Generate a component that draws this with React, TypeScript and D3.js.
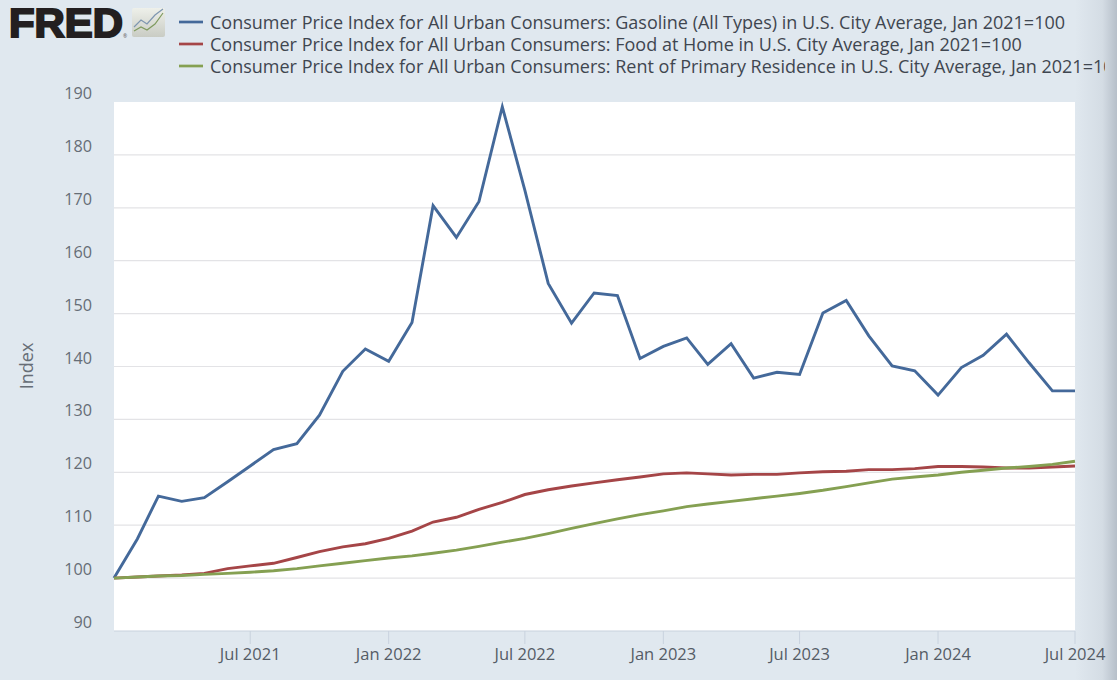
import * as React from 'react';
import * as d3 from 'd3';

const gasoline = [
  100, 107.4, 115.5, 114.5, 115.2, 118.2, 121.2, 124.3, 125.4, 130.8, 139.1, 143.3,
  141, 148.3, 170.4, 164.4, 171.2, 189.1, 173.3, 155.7, 148.2, 153.9, 153.4, 141.5,
  143.8, 145.4, 140.4, 144.3, 137.8, 138.9, 138.5, 150.1, 152.5, 145.8, 140.1, 139.2,
  134.6, 139.8, 142.1, 146.1, 140.7, 135.4, 135.4,
];
const foodAtHome = [
  100, 100.2, 100.4, 100.6, 100.9, 101.8, 102.3, 102.8, 103.9, 105, 105.9, 106.5,
  107.5, 108.9, 110.6, 111.5, 113, 114.3, 115.8, 116.7, 117.4, 118, 118.6, 119.1,
  119.7, 119.9, 119.7, 119.5, 119.6, 119.6, 119.9, 120.1, 120.2, 120.5, 120.5, 120.7,
  121.1, 121.1, 121, 120.8, 120.8, 121, 121.2,
];
const rent = [
  100, 100.2, 100.4, 100.5, 100.7, 100.9, 101.1, 101.4, 101.8, 102.3, 102.8, 103.3,
  103.8, 104.2, 104.7, 105.3, 106, 106.8, 107.5, 108.4, 109.4, 110.3, 111.2, 112,
  112.7, 113.5, 114, 114.5, 115, 115.5, 116, 116.6, 117.3, 118, 118.7, 119.1,
  119.5, 120, 120.4, 120.8, 121.1, 121.5, 122.1,
];
const dates = d3.timeMonth.range(new Date(2021, 0, 1), new Date(2024, 7, 1));

const seriesNames = [
  'Consumer Price Index for All Urban Consumers: Gasoline (All Types) in U.S. City Average, Jan 2021=100',
  'Consumer Price Index for All Urban Consumers: Food at Home in U.S. City Average, Jan 2021=100',
  'Consumer Price Index for All Urban Consumers: Rent of Primary Residence in U.S. City Average, Jan 2021=100',
];
const seriesValues = [gasoline, foodAtHome, rent];
const seriesColors = ['#44699A', '#A54547', '#85A052'];

const yTicks = [90, 100, 110, 120, 130, 140, 150, 160, 170, 180, 190];
const xTicks = [
  new Date(2021, 6, 1),
  new Date(2022, 0, 1),
  new Date(2022, 6, 1),
  new Date(2023, 0, 1),
  new Date(2023, 6, 1),
  new Date(2024, 0, 1),
  new Date(2024, 6, 1),
];

const width = 1117;
const height = 680;
const left = 114;
const right = 1075;
const top = 102;
const bottom = 631;

const x = d3.scaleTime().domain([dates[0], dates[dates.length - 1]]).range([left, right]);
const y = d3.scaleLinear().domain([90, 190]).range([bottom, top]);
const formatDate = d3.timeFormat('%b %Y');
const font = '"Open Sans", sans-serif';

const line = d3
  .line<number>()
  .x((_, i) => x(dates[i]))
  .y((d) => y(d));

export default function App() {
  return (
    <svg
      width={width}
      height={height}
      viewBox={`0 0 ${width} ${height}`}
      style={{ position: 'absolute', left: 0, top: 0, display: 'block' }}
      fontFamily={font}
    >
      <defs>
        <linearGradient id="edge" x1="0" x2="1" y1="0" y2="0">
          <stop offset="0" stopColor="#4A5568" stopOpacity={0} />
          <stop offset="0.65" stopColor="#4A5568" stopOpacity={0.08} />
          <stop offset="1" stopColor="#4A5568" stopOpacity={0.28} />
        </linearGradient>
        <linearGradient id="icon" x1="0" x2="0" y1="0" y2="1">
          <stop offset="0" stopColor="#EEF0EA" />
          <stop offset="1" stopColor="#C9CCC4" />
        </linearGradient>
        <clipPath id="legendClip">
          <rect x={0} y={0} width={1105} height={height} />
        </clipPath>
      </defs>
      <rect width={width} height={height} fill="#E0E8EF" />

      {/* Logo */}
      <text
        x={9}
        y={37}
        fontFamily='"Liberation Sans", Arial, sans-serif'
        fontWeight={700}
        fontSize={40}
        fill="#231F20"
        stroke="#231F20"
        strokeWidth={2}
        textLength={114}
        lengthAdjust="spacingAndGlyphs"
      >
        FRED
      </text>
      <text x={123} y={38} fontSize={5} fill="#555">®</text>
      <rect x={132} y={8} width={33} height={29} rx={2} fill="url(#icon)" />
      <polyline points="134,27 141,20 147,24 155,15 163,9" fill="none" stroke="#7E96B0" strokeWidth={1.2} />
      <polyline points="134,31 141,27 147,30 155,24 163,13" fill="none" stroke="#7F9A5E" strokeWidth={1.2} />

      {/* Legend */}
      <g clipPath="url(#legendClip)">
        {seriesNames.map((name, i) => (
          <g key={name} transform={`translate(0, ${22 + i * 22})`}>
            <line x1={179} x2={203} y1={0} y2={0} stroke={seriesColors[i]} strokeWidth={2.7} />
            <text x={210} y={6.5} fontSize={18} fill="#3F4650">
              {name}
            </text>
          </g>
        ))}
      </g>

      {/* Plot */}
      <rect x={left} y={top} width={right - left} height={bottom - top} fill="#FFFFFF" />
      {yTicks.slice(1, -1).map((t) => (
        <line key={t} x1={left} x2={right} y1={y(t)} y2={y(t)} stroke="#E3E3E6" strokeWidth={1.2} />
      ))}
      <line x1={left} x2={right} y1={bottom} y2={bottom} stroke="#C8D2DE" strokeWidth={1.2} />
      {xTicks.map((t) => (
        <line key={t.getTime()} x1={x(t)} x2={x(t)} y1={bottom} y2={bottom + 13} stroke="#C8D2DE" strokeWidth={1} />
      ))}

      {seriesValues.map((values, i) => (
        <path
          key={seriesNames[i]}
          d={line(values) ?? ''}
          fill="none"
          stroke={seriesColors[i]}
          strokeWidth={2.9}
          strokeLinejoin="miter"
        />
      ))}

      {/* Axis labels */}
      {yTicks.map((t) => (
        <text key={t} x={92} y={y(t) - 3} textAnchor="end" fontSize={16.2} fill="#666D76">
          {t}
        </text>
      ))}
      {xTicks.map((t) => (
        <text key={t.getTime()} x={x(t)} y={660} textAnchor="middle" fontSize={16.5} fill="#555C66">
          {formatDate(t)}
        </text>
      ))}
      <text
        transform="translate(33, 366) rotate(-90)"
        textAnchor="middle"
        fontSize={18}
        fill="#666D76"
      >
        Index
      </text>

      {/* Shaded right edge of the screenshot */}
      <rect x={right} y={0} width={width - right} height={height} fill="url(#edge)" />
    </svg>
  );
}
